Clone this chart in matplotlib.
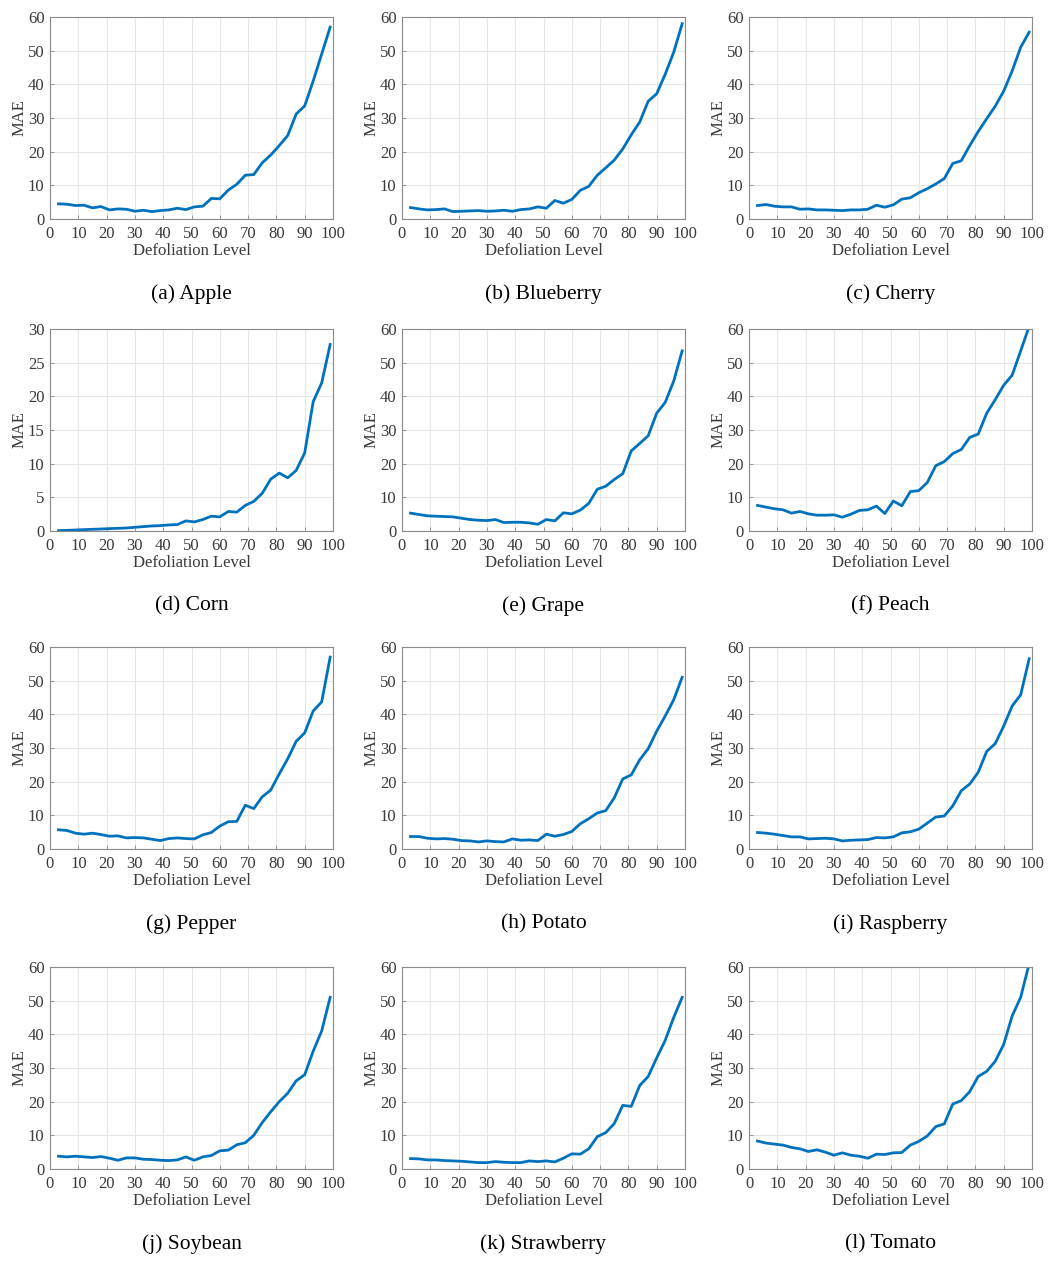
import numpy as np
import matplotlib
matplotlib.use('Agg')
import matplotlib.pyplot as plt

plt.rcParams['font.family'] = ['Liberation Serif', 'DejaVu Serif']

levels = [3, 6, 9, 12, 15, 18, 21, 24, 27, 30, 33, 36, 39, 42, 45, 48, 51,
          54, 57, 60, 63, 66, 69, 72, 75, 78, 81, 84, 87, 90, 93, 96, 99]

apple = [4.5, 4.4, 4.0, 4.1, 3.3, 3.7, 2.7, 3.0, 2.9, 2.3, 2.6, 2.2, 2.5, 2.7, 3.2, 2.8, 3.6,
         3.8, 6.1, 6.0, 8.6, 10.3, 13.0, 13.2, 16.7, 19.0, 21.8, 24.8, 31.2, 33.6, 41.0, 49.0, 57.0]
blueberry = [3.4, 3.0, 2.7, 2.8, 3.0, 2.2, 2.3, 2.4, 2.5, 2.3, 2.4, 2.6, 2.3, 2.8, 3.0, 3.6, 3.2,
             5.5, 4.7, 5.8, 8.5, 9.7, 13.0, 15.2, 17.5, 20.8, 25.0, 28.8, 35.0, 37.2, 43.0, 49.5, 58.0]
cherry = [4.0, 4.3, 3.8, 3.6, 3.6, 2.9, 3.0, 2.7, 2.7, 2.6, 2.5, 2.7, 2.7, 2.9, 4.1, 3.5, 4.2,
          5.9, 6.3, 7.8, 9.0, 10.4, 12.0, 16.5, 17.3, 21.8, 26.0, 29.8, 33.5, 38.0, 44.0, 51.0, 55.5]
corn = [0.05, 0.1, 0.15, 0.2, 0.25, 0.3, 0.35, 0.4, 0.45, 0.55, 0.65, 0.75, 0.8, 0.9, 0.95, 1.5, 1.35,
        1.7, 2.2, 2.1, 2.9, 2.8, 3.8, 4.4, 5.6, 7.7, 8.6, 7.9, 9.0, 11.6, 19.2, 22.0, 27.7]
grape = [5.3, 4.9, 4.5, 4.4, 4.3, 4.2, 3.8, 3.4, 3.2, 3.1, 3.4, 2.5, 2.6, 2.6, 2.4, 2.0, 3.4,
         3.0, 5.4, 5.1, 6.2, 8.2, 12.4, 13.3, 15.3, 17.0, 23.8, 26.0, 28.3, 35.0, 38.2, 44.5, 53.5]
peach = [7.6, 7.1, 6.6, 6.3, 5.3, 5.8, 5.1, 4.7, 4.7, 4.8, 4.1, 5.0, 6.1, 6.3, 7.4, 5.2, 8.9,
         7.5, 11.7, 12.0, 14.4, 19.4, 20.6, 23.0, 24.2, 27.8, 28.8, 35.0, 39.0, 43.3, 46.3, 53.5, 60.8]
pepper = [5.7, 5.5, 4.7, 4.4, 4.7, 4.3, 3.8, 3.9, 3.3, 3.4, 3.3, 2.9, 2.5, 3.1, 3.3, 3.1, 3.0,
          4.2, 4.9, 6.8, 8.1, 8.2, 13.0, 12.0, 15.5, 17.5, 22.3, 26.8, 32.0, 34.5, 41.0, 43.7, 57.0]
potato = [3.7, 3.7, 3.2, 3.0, 3.1, 2.9, 2.5, 2.4, 2.1, 2.4, 2.2, 2.1, 3.0, 2.6, 2.7, 2.5, 4.4,
          3.8, 4.3, 5.2, 7.5, 9.0, 10.7, 11.4, 15.2, 20.8, 22.0, 26.5, 29.8, 35.0, 39.5, 44.3, 51.0]
raspberry = [4.9, 4.7, 4.4, 4.0, 3.6, 3.6, 3.0, 3.1, 3.2, 3.0, 2.4, 2.6, 2.7, 2.8, 3.4, 3.3, 3.6,
             4.8, 5.1, 5.9, 7.7, 9.5, 9.8, 12.8, 17.3, 19.3, 22.8, 29.0, 31.3, 36.5, 42.5, 45.8, 56.5]
soybean = [3.8, 3.6, 3.8, 3.6, 3.4, 3.7, 3.2, 2.6, 3.3, 3.3, 2.9, 2.8, 2.6, 2.5, 2.7, 3.6, 2.6,
           3.6, 4.0, 5.4, 5.6, 7.2, 7.8, 10.0, 13.8, 17.0, 20.0, 22.5, 26.2, 28.0, 35.0, 41.0, 51.0]
strawberry = [3.1, 3.0, 2.7, 2.7, 2.5, 2.4, 2.3, 2.1, 1.9, 1.9, 2.2, 2.0, 1.9, 1.9, 2.4, 2.2, 2.4,
              2.1, 3.2, 4.5, 4.4, 6.0, 9.6, 10.8, 13.5, 18.9, 18.6, 24.8, 27.5, 33.0, 38.2, 45.0, 51.0]
tomato = [8.3, 7.7, 7.4, 7.1, 6.4, 6.0, 5.2, 5.7, 5.0, 4.1, 4.8, 4.1, 3.8, 3.2, 4.4, 4.3, 4.8,
          4.9, 7.1, 8.2, 9.8, 12.6, 13.4, 19.3, 20.3, 23.0, 27.5, 29.0, 32.0, 37.0, 45.5, 51.0, 61.0]

captions = ['(a) Apple', '(b) Blueberry', '(c) Cherry', '(d) Corn', '(e) Grape', '(f) Peach',
            '(g) Pepper', '(h) Potato', '(i) Raspberry', '(j) Soybean', '(k) Strawberry', '(l) Tomato']
series = [apple, blueberry, cherry, corn, grape, peach,
          pepper, potato, raspberry, soybean, strawberry, tomato]

W, H = 1059, 1264
fig = plt.figure(figsize=(W / 100, H / 100), dpi=100)

lefts = [50, 402, 749]
tops = [17, 329, 647, 967]
aw, ah = 283, 202
grey = '#3a3a3a'

for i, (cap, vals) in enumerate(zip(captions, series)):
    r, c = divmod(i, 3)
    x0, y0 = lefts[c], tops[r]
    ax = fig.add_axes([x0 / W, 1 - (y0 + ah) / H, aw / W, ah / H])
    ax.plot(levels, vals, color='#0072BD', lw=2.0, clip_on=True)
    ax.set_xlim(0, 100)
    ax.set_xticks(range(0, 101, 10))
    if cap == '(d) Corn':
        ax.set_ylim(0, 30)
        ax.set_yticks(range(0, 31, 5))
    else:
        ax.set_ylim(0, 60)
        ax.set_yticks(range(0, 61, 10))
    ax.grid(True, color='#e6e6e6', lw=0.8)
    ax.set_axisbelow(True)
    for s in ax.spines.values():
        s.set_color('#8a8a8a')
        s.set_linewidth(0.8)
    ax.tick_params(direction='in', length=3, width=0.6, color='#8a8a8a',
                   labelsize=12, labelcolor=grey)
    ax.tick_params(axis='x', pad=5)
    ax.tick_params(axis='y', pad=4)
    ax.set_xlabel('Defoliation Level', fontsize=12, color=grey, labelpad=1)
    ax.set_ylabel('MAE', fontsize=12, color=grey, labelpad=0)
    fig.text((x0 + aw / 2) / W, 1 - (y0 + 277) / H, cap, ha='center', va='center',
             fontsize=15.5, color='black')

fig.savefig('out.png', dpi=100)
